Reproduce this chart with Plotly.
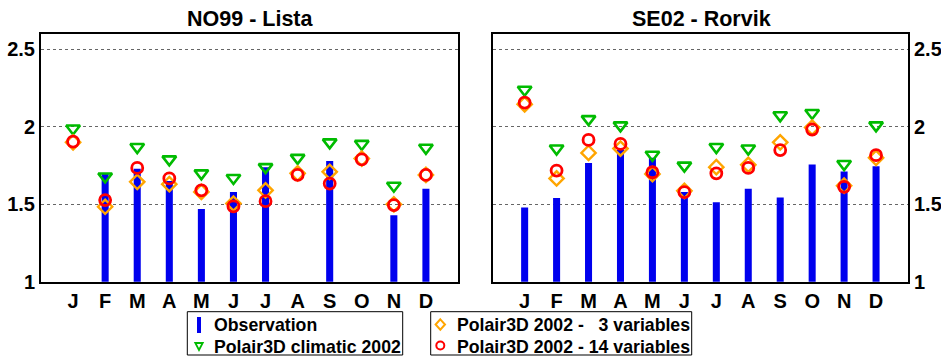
import plotly.graph_objects as go

months = ["J", "F", "M", "A", "M", "J", "J", "A", "S", "O", "N", "D"]
month_idx = list(range(1, 13))

# NO99 - Lista
lista_obs = [None, 1.70, 1.73, 1.65, 1.47, 1.58, 1.74, None, 1.78, None, 1.43, 1.60]
lista_clim = [1.99, 1.68, 1.87, 1.79, 1.70, 1.67, 1.74, 1.80, 1.90, 1.89, 1.62, 1.865]
lista_v3 = [1.90, 1.484, 1.645, 1.63, 1.58, 1.505, 1.59, 1.70, 1.71, 1.795, 1.50, 1.69]
lista_v14 = [1.905, 1.527, 1.735, 1.667, 1.59, 1.486, 1.52, 1.69, 1.634, 1.79, 1.495, 1.69]

# SE02 - Rorvik
rorvik_obs = [1.48, 1.54, 1.766, 1.85, 1.80, 1.58, 1.514, 1.60, 1.544, 1.757, 1.712, 1.746]
rorvik_clim = [2.24, 1.86, 2.05, 2.01, 1.82, 1.75, 1.87, 1.86, 2.075, 2.09, 1.76, 2.01]
rorvik_v3 = [2.146, 1.667, 1.832, 1.86, 1.695, 1.587, 1.74, 1.755, 1.90, 1.996, 1.62, 1.80]
rorvik_v14 = [2.157, 1.718, 1.916, 1.89, 1.707, 1.578, 1.70, 1.735, 1.85, 1.983, 1.613, 1.817]

yticks = [1, 1.5, 2, 2.5]
ytick_text = ["1", "1.5", "2", "2.5"]

legend_labels = ["Observation", "Polair3D climatic 2002",
                 "Polair3D 2002 -\u00a0\u00a0\u00a03 variables", "Polair3D 2002 - 14 variables"]

BLUE = "#0000ee"
GREEN = "#00bb00"
ORANGE = "#ffa500"
RED = "#ff0000"
FONT = "Liberation Sans, Arial, Helvetica, sans-serif"
W, H = 941, 358

def px(x):
    return x / W

def py(y):
    return 1 - y / H

fig = go.Figure()

def add_panel(obs, clim, v3, v14, xa, ya):
    fig.add_trace(go.Bar(x=month_idx, y=obs, width=0.22, marker=dict(color=BLUE, line=dict(width=0)),
                         xaxis=xa, yaxis=ya, showlegend=False, hoverinfo="skip"))
    fig.add_trace(go.Scatter(x=month_idx, y=clim, mode="markers", xaxis=xa, yaxis=ya, showlegend=False,
                             marker=dict(symbol="triangle-down-open", size=12, color=GREEN, line=dict(width=2.6, color=GREEN))))
    fig.add_trace(go.Scatter(x=month_idx, y=v3, mode="markers", xaxis=xa, yaxis=ya, showlegend=False,
                             marker=dict(symbol="diamond-open", size=11, color=ORANGE, line=dict(width=2.4, color=ORANGE))))
    fig.add_trace(go.Scatter(x=month_idx, y=v14, mode="markers", xaxis=xa, yaxis=ya, showlegend=False,
                             marker=dict(symbol="circle-open", size=11, color=RED, line=dict(width=2.8, color=RED))))

add_panel(lista_obs, lista_clim, lista_v3, lista_v14, "x", "y")
add_panel(rorvik_obs, rorvik_clim, rorvik_v3, rorvik_v14, "x2", "y2")

tickfont = dict(family=FONT, size=20, color="black", weight="bold")
axis_common = dict(showline=True, linecolor="black", linewidth=2, mirror=True, ticks="", zeroline=False,
                   automargin=False)
legend_font = dict(family=FONT, size=17.7, color="black", weight="bold")

# --- legend boxes, drawn as layout shapes + text ---
shapes = [
    dict(type="rect", xref="paper", yref="paper", x0=px(187.3), x1=px(402.7), y0=py(355), y1=py(311.7),
         line=dict(color="black", width=1), fillcolor="white"),
    dict(type="rect", xref="paper", yref="paper", x0=px(430.7), x1=px(691.7), y0=py(355), y1=py(311.7),
         line=dict(color="black", width=1), fillcolor="white"),
    # observation symbol (thin blue bar)
    dict(type="rect", xref="paper", yref="paper", x0=px(197), x1=px(201), y0=py(333), y1=py(317),
         line=dict(width=0), fillcolor=BLUE),
    # climatic symbol (down triangle)
    dict(type="path", xref="paper", yref="paper",
         path=f"M {px(195.3)} {py(343)} L {px(202.7)} {py(343)} L {px(199)} {py(350)} Z",
         line=dict(color=GREEN, width=1.8)),
    # 3 variables symbol (diamond)
    dict(type="path", xref="paper", yref="paper",
         path=f"M {px(440.3)} {py(319.3)} L {px(445)} {py(324.5)} L {px(440.3)} {py(329.7)} L {px(435.6)} {py(324.5)} Z",
         line=dict(color=ORANGE, width=2)),
    # 14 variables symbol (circle)
    dict(type="circle", xref="paper", yref="paper", x0=px(436.3), x1=px(444.3), y0=py(349.5), y1=py(341.5),
         line=dict(color=RED, width=2)),
]

legend_text_pos = [(211.7, 325), (211.7, 346.5), (455.3, 325), (455.3, 346.5)]
annotations = [
    dict(text="NO99 - Lista", x=px(250), y=py(19), xref="paper", yref="paper", showarrow=False,
         xanchor="center", yanchor="middle", font=dict(family=FONT, size=21.5, color="black", weight="bold")),
    dict(text="SE02 - Rorvik", x=px(701), y=py(19), xref="paper", yref="paper", showarrow=False,
         xanchor="center", yanchor="middle", font=dict(family=FONT, size=21.5, color="black", weight="bold")),
]
for label, (lx, ly) in zip(legend_labels, legend_text_pos):
    annotations.append(dict(text=label, x=px(lx), y=py(ly), xref="paper", yref="paper", showarrow=False,
                            xanchor="left", yanchor="middle", font=legend_font))

fig.update_layout(
    template="none",
    width=W, height=H,
    margin=dict(l=0, r=0, t=0, b=0, pad=0),
    paper_bgcolor="white", plot_bgcolor="white",
    font=dict(family=FONT, color="black"),
    barmode="overlay",
    showlegend=False,
    xaxis=dict(domain=[px(41), px(458)], range=[0, 13], tickvals=month_idx, ticktext=months,
               showgrid=False, tickfont=tickfont, anchor="y", **axis_common),
    yaxis=dict(domain=[py(281.7), py(34)], range=[1, 2.6], tickvals=yticks, ticktext=ytick_text,
               showgrid=True, gridcolor="#666666", griddash="dot", gridwidth=1, tickfont=tickfont,
               anchor="x", side="left", **axis_common),
    xaxis2=dict(domain=[px(492.7), px(908)], range=[0, 13], tickvals=month_idx, ticktext=months,
                showgrid=False, tickfont=tickfont, anchor="y2", **axis_common),
    yaxis2=dict(domain=[py(281.7), py(34)], range=[1, 2.6], tickvals=yticks, ticktext=ytick_text,
                showgrid=True, gridcolor="#666666", griddash="dot", gridwidth=1, tickfont=tickfont,
                anchor="x2", side="right", **axis_common),
    shapes=shapes,
    annotations=annotations,
)

fig.write_html("out.html", config={"displayModeBar": False},
               post_script="document.body.style.margin='0';document.body.style.overflow='hidden';")
